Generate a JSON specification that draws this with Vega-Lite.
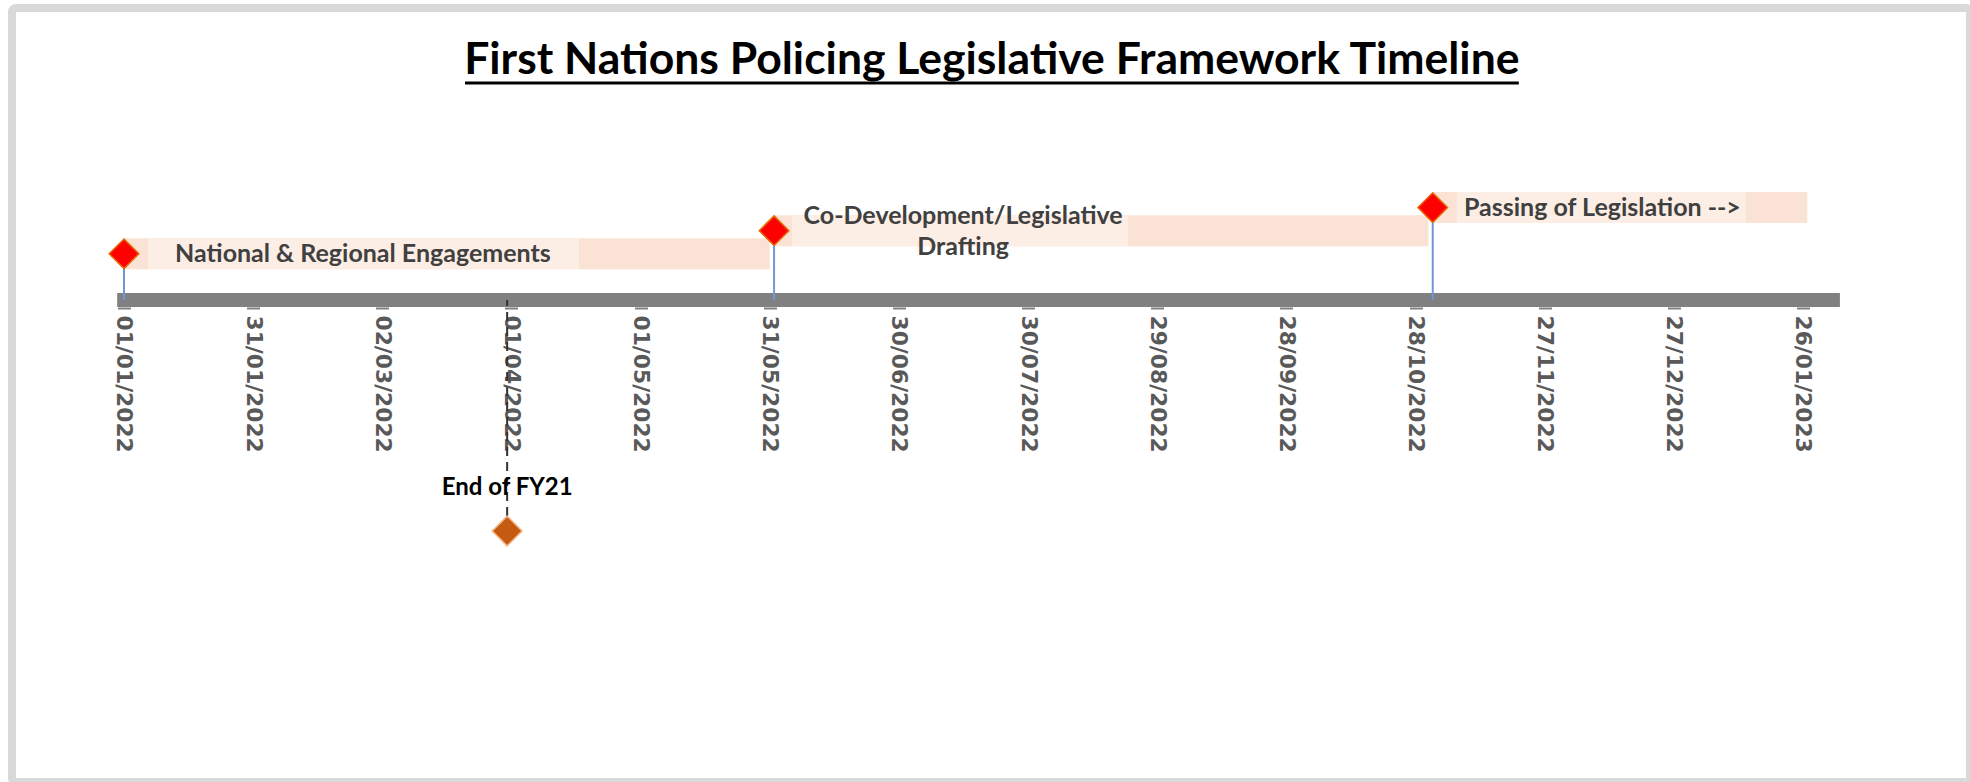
{
  "$schema": "https://vega.github.io/schema/vega-lite/v6.json",
  "autosize": {"type": "none"},
  "width": 1958,
  "height": 774,
  "padding": {"left": 12, "top": 8, "right": 0, "bottom": 0},
  "background": "#FFFFFF",
  "config": {
    "view": {"fill": "#FFFFFF", "stroke": "#D9D9D9", "strokeWidth": 8, "cornerRadius": 4},
    "text": {"font": "Lato"}
  },
  "datasets": {
    "phases": [
      {"start": "2022-01-01T00:00:00", "end": "2022-05-31T00:00:00", "height": 10, "bg_start": "2022-01-06T14:00:00", "bg_end": "2022-04-16T17:00:00", "label_date": "2022-02-25T12:00:00", "label": "National & Regional Engagements"},
      {"start": "2022-06-01T00:00:00", "end": "2022-10-31T00:00:00", "height": 15, "bg_start": "2022-06-05T05:00:00", "bg_end": "2022-08-22T05:00:00", "label_date": "2022-07-14T22:00:00", "label": "Co-Development/Legislative\nDrafting"},
      {"start": "2022-11-01T00:00:00", "end": "2023-01-27T00:00:00", "height": 20, "bg_start": "2022-11-06T14:00:00", "bg_end": "2023-01-12T19:00:00", "label_date": "2022-12-10T10:00:00", "label": "Passing of Legislation -->"}
    ],
    "milestones": [
      {"date": "2022-01-01T00:00:00", "height": 10, "kind": "phase", "label": ""},
      {"date": "2022-06-01T00:00:00", "height": 15, "kind": "phase", "label": ""},
      {"date": "2022-11-01T00:00:00", "height": 20, "kind": "phase", "label": ""},
      {"date": "2022-03-31T00:00:00", "height": -50, "kind": "fy", "label": "End of FY21"}
    ],
    "single": [{}]
  },
  "layer": [
    {
      "data": {"name": "single"},
      "mark": {"type": "rule", "strokeWidth": 14, "color": "#808080"},
      "encoding": {
        "x": {
          "datum": {"year": 2021, "month": 12, "date": 30, "hours": 10},
          "type": "temporal",
          "scale": {"domain": [{"year": 2021, "month": 12, "date": 5, "hours": 23, "minutes": 37}, {"year": 2023, "month": 3, "date": 5, "hours": 19, "minutes": 12}], "nice": false},
          "axis": {
            "title": null,
            "orient": "bottom",
            "offset": -475,
            "domain": false,
            "grid": false,
            "format": "%d/%m/%Y",
            "labelAngle": 90,
            "labelAlign": "left",
            "labelBaseline": "middle",
            "labelFont": "DejaVu Sans",
            "labelFontWeight": "bold",
            "labelFontSize": 21.8,
            "labelColor": "#595959",
            "labelPadding": 6,
            "labelOverlap": false,
            "labelFlush": false,
            "labelBound": false,
            "tickColor": "#808080",
            "tickSize": 2,
            "tickWidth": 13,
            "values": [
              {"year": 2022, "month": 1, "date": 1},
              {"year": 2022, "month": 1, "date": 31},
              {"year": 2022, "month": 3, "date": 2},
              {"year": 2022, "month": 4, "date": 1},
              {"year": 2022, "month": 5, "date": 1},
              {"year": 2022, "month": 5, "date": 31},
              {"year": 2022, "month": 6, "date": 30},
              {"year": 2022, "month": 7, "date": 30},
              {"year": 2022, "month": 8, "date": 29},
              {"year": 2022, "month": 9, "date": 28},
              {"year": 2022, "month": 10, "date": 28},
              {"year": 2022, "month": 11, "date": 27},
              {"year": 2022, "month": 12, "date": 27},
              {"year": 2023, "month": 1, "date": 26}
            ]
          }
        },
        "x2": {"datum": {"year": 2023, "month": 2, "date": 3, "hours": 14}},
        "y": {
          "datum": 0,
          "type": "quantitative",
          "scale": {"domain": [-104.33, 63.2], "nice": false, "zero": false},
          "axis": null
        }
      }
    },
    {
      "data": {"name": "phases"},
      "mark": {"type": "rule", "strokeWidth": 31, "color": "#FAE3D4"},
      "encoding": {
        "x": {"field": "start", "type": "temporal"},
        "x2": {"field": "end"},
        "y": {"field": "height", "type": "quantitative"}
      }
    },
    {
      "data": {"name": "phases"},
      "mark": {"type": "rule", "strokeWidth": 31, "color": "#FDEEE5"},
      "encoding": {
        "x": {"field": "bg_start", "type": "temporal"},
        "x2": {"field": "bg_end"},
        "y": {"field": "height", "type": "quantitative"}
      }
    },
    {
      "data": {"name": "milestones"},
      "transform": [{"filter": "datum.kind === 'phase'"}],
      "mark": {"type": "rule", "strokeWidth": 2, "color": "#7196D8"},
      "encoding": {
        "x": {"field": "date", "type": "temporal"},
        "y": {"field": "height", "type": "quantitative"},
        "y2": {"datum": 0}
      }
    },
    {
      "data": {"name": "milestones"},
      "transform": [{"filter": "datum.kind === 'fy'"}],
      "mark": {"type": "rule", "strokeWidth": 2, "color": "#333333", "strokeDash": [9, 6]},
      "encoding": {
        "x": {"field": "date", "type": "temporal"},
        "y": {"field": "height", "type": "quantitative"},
        "y2": {"datum": 0}
      }
    },
    {
      "data": {"name": "milestones"},
      "mark": {"type": "point", "shape": "diamond", "filled": true, "size": 880, "strokeWidth": 1.5, "opacity": 1},
      "encoding": {
        "x": {"field": "date", "type": "temporal"},
        "y": {"field": "height", "type": "quantitative"},
        "fill": {"condition": {"test": "datum.kind === 'fy'", "value": "#C55A11"}, "value": "#FF0000"},
        "stroke": {"condition": {"test": "datum.kind === 'fy'", "value": "#F4B183"}, "value": "#E46C0A"}
      }
    },
    {
      "data": {"name": "phases"},
      "transform": [{"filter": "indexof(datum.label, '\\n') < 0"}],
      "mark": {"type": "text", "font": "Lato", "fontWeight": "bold", "fontSize": 25, "color": "#404040", "align": "center", "baseline": "middle"},
      "encoding": {
        "x": {"field": "label_date", "type": "temporal"},
        "y": {"field": "height", "type": "quantitative"},
        "text": {"field": "label"}
      }
    },
    {
      "data": {"name": "phases"},
      "transform": [{"filter": "indexof(datum.label, '\\n') >= 0"}],
      "mark": {"type": "text", "font": "Lato", "fontWeight": "bold", "fontSize": 25, "color": "#404040", "align": "center", "baseline": "middle", "lineBreak": "\n", "lineHeight": 31, "dy": -15},
      "encoding": {
        "x": {"field": "label_date", "type": "temporal"},
        "y": {"field": "height", "type": "quantitative"},
        "text": {"field": "label"}
      }
    },
    {
      "data": {"name": "milestones"},
      "transform": [{"filter": "datum.kind === 'fy'"}],
      "mark": {"type": "text", "font": "Lato", "fontWeight": "bold", "fontSize": 24, "color": "#000000", "align": "center", "baseline": "middle", "dy": -43},
      "encoding": {
        "x": {"field": "date", "type": "temporal"},
        "y": {"field": "height", "type": "quantitative"},
        "text": {"field": "label"}
      }
    },
    {
      "data": {"name": "single"},
      "mark": {"type": "text", "font": "Lato", "fontWeight": "bold", "fontSize": 44.5, "color": "#000000", "align": "center", "baseline": "alphabetic", "text": "First Nations Policing Legislative Framework Timeline"},
      "encoding": {
        "x": {"datum": {"year": 2022, "month": 7, "date": 21, "hours": 14}, "type": "temporal"},
        "y": {"datum": 48.9, "type": "quantitative"}
      }
    },
    {
      "data": {"name": "single"},
      "mark": {"type": "rule", "strokeWidth": 3, "color": "#000000"},
      "encoding": {
        "x": {"datum": {"year": 2022, "month": 3, "date": 21, "hours": 5}, "type": "temporal"},
        "x2": {"datum": {"year": 2022, "month": 11, "date": 21}},
        "y": {"datum": 46.97, "type": "quantitative"}
      }
    }
  ]
}
